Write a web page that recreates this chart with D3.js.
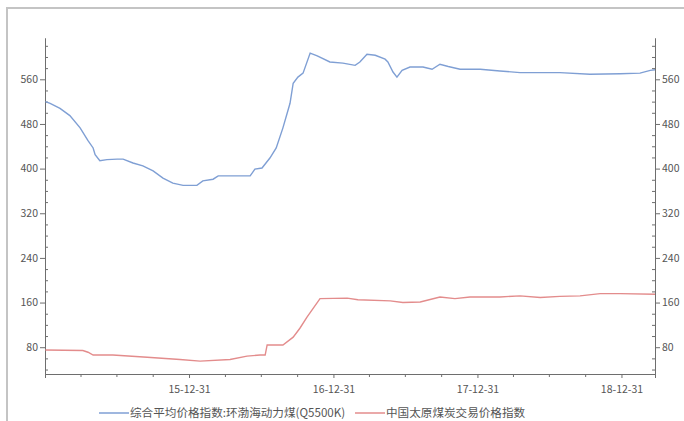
<!DOCTYPE html>
<html>
<head>
<meta charset="utf-8">
<script src="https://cdn.jsdelivr.net/npm/d3@7"></script>
<style>
  body { margin: 0; background: #fff; }
  text { font-family: "Noto Sans CJK SC", "DejaVu Sans", sans-serif; }
</style>
</head>
<body>
<div id="chart"></div>
<script>
const width = 684;
const height = 421;
const margin = { top: 38, right: 29, bottom: 47, left: 45 };

const seriesNames = ["综合平均价格指数:环渤海动力煤(Q5500K)", "中国太原煤炭交易价格指数"];
const seriesColors = ["#7f9fd4", "#e38c8c"];

// 环渤海动力煤
const bohaiDates = ["2015-01-01","2015-01-13","2015-02-07","2015-03-04","2015-03-30","2015-04-19","2015-05-02","2015-05-07","2015-05-19","2015-06-06","2015-07-02","2015-07-17","2015-08-11","2015-09-05","2015-10-01","2015-10-26","2015-11-20","2015-12-16","2016-01-20","2016-02-04","2016-03-01","2016-03-14","2016-06-03","2016-06-15","2016-07-03","2016-07-23","2016-08-08","2016-08-25","2016-09-12","2016-09-20","2016-10-02","2016-10-15","2016-11-02","2016-11-20","2016-12-22","2017-01-24","2017-02-24","2017-03-08","2017-03-26","2017-04-16","2017-05-11","2017-05-18","2017-05-31","2017-06-10","2017-06-23","2017-07-13","2017-08-15","2017-09-07","2017-09-27","2017-10-18","2017-11-17","2018-01-07","2018-02-26","2018-04-18","2018-07-28","2018-10-12","2018-12-28","2019-02-16","2019-03-14","2019-03-26"];
const bohaiValues = [520,517,508,495,473,450,437,425,414,416,417,417,410,405,396,383,374,370,370,378,381,387,387,399,401,419,437,473,517,553,564,571,607,602,591,589,585,591,605,603,596,591,573,564,576,582,582,578,587,583,578,578,575,572,572,569,570,571,576,577];

// 太原煤炭交易价格指数
const taiyuanDates = ["2015-01-01","2015-04-06","2015-04-19","2015-05-02","2015-06-21","2015-09-16","2015-12-08","2016-01-28","2016-04-13","2016-05-26","2016-06-28","2016-07-11","2016-07-16","2016-08-25","2016-09-20","2016-10-07","2016-10-25","2016-11-27","2017-02-04","2017-03-03","2017-05-24","2017-06-25","2017-08-08","2017-09-27","2017-11-04","2017-12-12","2018-02-26","2018-04-18","2018-06-08","2018-07-28","2018-09-17","2018-11-07","2018-12-28","2019-03-26"];
const taiyuanValues = [75,74,71,66,66,62,58,55,58,64,66,66,84,84,98,114,134,167,168,165,163,160,161,170,167,170,170,172,169,171,172,176,176,175];

const xMajorTicks = ["2015-12-31","2016-12-31","2017-12-31","2018-12-31"];
const xMinorTicks = ["2015-03-31","2015-06-30","2015-09-30","2016-03-31","2016-06-30","2016-09-30","2017-03-31","2017-06-30","2017-09-30","2018-03-31","2018-06-30","2018-09-30"];
const yMajorTicks = [80, 160, 240, 320, 400, 480, 560];
const yMinorTicks = [40, 60, 100, 120, 140, 180, 200, 220, 260, 280, 300, 340, 360, 380, 420, 440, 460, 500, 520, 540, 580, 600, 620];

const parse = d3.timeParse("%Y-%m-%d");
const fmt = d3.timeFormat("%y-%m-%d");

const series = [
  bohaiDates.map((d, i) => ({ date: parse(d), value: bohaiValues[i] })),
  taiyuanDates.map((d, i) => ({ date: parse(d), value: taiyuanValues[i] }))
];

const svg = d3.select("#chart")
  .append("svg")
  .attr("width", width)
  .attr("height", height);

// outer frame (cropped at right/bottom)
svg.append("rect")
  .attr("x", 7).attr("y", 8)
  .attr("width", 700).attr("height", 430)
  .attr("fill", "none")
  .attr("stroke", "#c4c4c4")
  .attr("stroke-width", 2);

const xScale = d3.scaleTime()
  .domain([parse("2014-12-31"), parse("2019-03-26")])
  .range([margin.left, width - margin.right]);

const yScale = d3.scaleLinear()
  .domain([32, 634])
  .range([height - margin.bottom, margin.top]);

const axisColor = "#6e6e6e";
const labelColor = "#555";

function styleAxis(g) {
  g.select(".domain").attr("stroke", axisColor);
  g.selectAll(".tick line").attr("stroke", axisColor);
  g.selectAll(".tick text").attr("fill", labelColor).style("font-size", "10.5px");
}

// minor ticks first (no labels)
svg.append("g")
  .attr("transform", `translate(0,${height - margin.bottom})`)
  .call(d3.axisBottom(xScale).tickValues(xMinorTicks.map(parse)).tickSize(3).tickFormat(""))
  .call(styleAxis);

svg.append("g")
  .attr("transform", `translate(0,${height - margin.bottom})`)
  .call(d3.axisBottom(xScale).tickValues(xMajorTicks.map(parse)).tickSize(4).tickPadding(8).tickFormat(fmt))
  .call(styleAxis);

svg.append("g")
  .attr("transform", `translate(${margin.left},0)`)
  .call(d3.axisRight(yScale).tickValues(yMinorTicks).tickSize(3).tickFormat("").tickSizeOuter(0))
  .call(styleAxis);

svg.append("g")
  .attr("transform", `translate(${margin.left},0)`)
  .call(d3.axisLeft(yScale).tickValues(yMajorTicks).tickSize(5).tickPadding(2).tickSizeOuter(0))
  .call(styleAxis);

svg.append("g")
  .attr("transform", `translate(${width - margin.right},0)`)
  .call(d3.axisLeft(yScale).tickValues(yMinorTicks).tickSize(3).tickFormat("").tickSizeOuter(0))
  .call(styleAxis);

svg.append("g")
  .attr("transform", `translate(${width - margin.right},0)`)
  .call(d3.axisRight(yScale).tickValues(yMajorTicks).tickSize(5).tickPadding(2).tickSizeOuter(0))
  .call(styleAxis);

const line = d3.line()
  .x(d => xScale(d.date))
  .y(d => yScale(d.value));

svg.selectAll(".series")
  .data(series)
  .enter()
  .append("path")
  .attr("class", "series")
  .attr("d", line)
  .attr("fill", "none")
  .attr("stroke", (d, i) => seriesColors[i])
  .attr("stroke-width", 1.4);

// legend
const legendY = 413;
const legendX = [99, 355];
const legend = svg.selectAll(".legend")
  .data(seriesNames)
  .enter()
  .append("g")
  .attr("class", "legend")
  .attr("transform", (d, i) => `translate(${legendX[i]},${legendY})`);

legend.append("line")
  .attr("x1", 0).attr("x2", 30)
  .attr("stroke", (d, i) => seriesColors[i])
  .attr("stroke-width", 1.5);

legend.append("text")
  .attr("x", 31)
  .attr("dy", "0.35em")
  .attr("fill", labelColor)
  .style("font-size", "11.6px")
  .text(d => d);
</script>
</body>
</html>
